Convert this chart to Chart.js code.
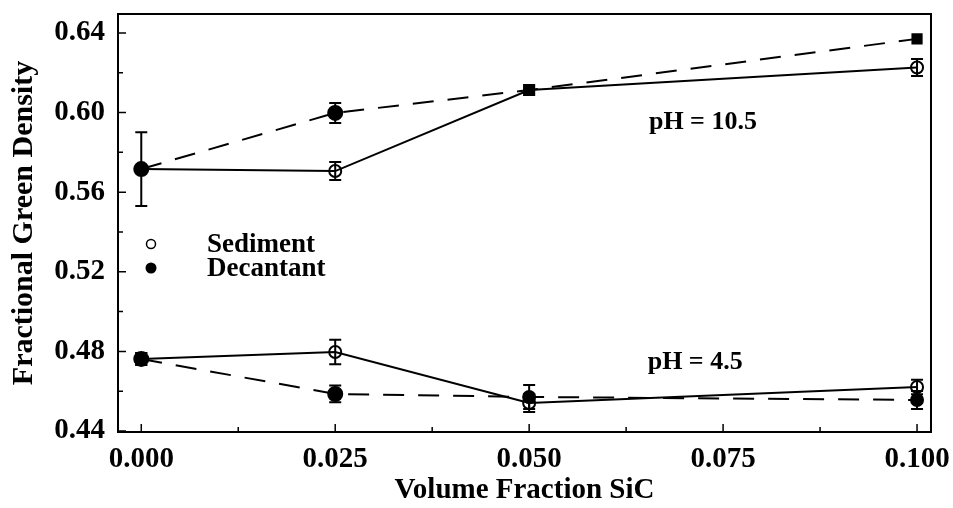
<!DOCTYPE html>
<html>
<head>
<meta charset="utf-8">
<script src="https://cdn.jsdelivr.net/npm/chart.js@4.4.1/dist/chart.umd.min.js"></script>
<style>
  html, body { margin: 0; padding: 0; background: #fff; }
  #wrap { width: 953px; height: 508px; }
</style>
</head>
<body>
<div id="wrap"><canvas id="myChart_Density"></canvas></div>
<script>
// volume fraction SiC (x)
var volFrac = [0.0, 0.025, 0.05, 0.1];

// pH = 10.5
var sedHigh = [0.5716, 0.5706, 0.6113, 0.6226];
var sedHighErr = [0, 0.0045, 0, 0.0043];
var decHigh = [0.5716, 0.5998, 0.6113, 0.637];
var decHighErr = [0.0185, 0.005, 0, 0];

// pH = 4.5
var sedLow = [0.4762, 0.4797, 0.4541, 0.4621];
var sedLowErr = [0.003, 0.0062, 0.0045, 0.0036];
var decLow = [0.4762, 0.4586, 0.4571, 0.4556];
var decLowErr = [0.003, 0.0042, 0.006, 0.0045];

var xTicks = [0.0, 0.025, 0.05, 0.075, 0.1];
var yTicks = [0.44, 0.48, 0.52, 0.56, 0.6, 0.64];

var serif = "'Liberation Serif', 'Times New Roman', serif";

function toPoints(ys, errs) {
  return volFrac.map(function (x, i) {
    return { x: x, y: ys[i], err: errs[i] };
  });
}

// error bars with caps
var errorBars = {
  id: "errorBars",
  afterDatasetsDraw: function (chart) {
    var ctx = chart.ctx;
    var ys = chart.scales.y;
    ctx.save();
    ctx.strokeStyle = "#000";
    ctx.lineWidth = 2;
    chart.data.datasets.forEach(function (ds, di) {
      var meta = chart.getDatasetMeta(di);
      ds.data.forEach(function (p, i) {
        if (!p.err) return;
        var px = meta.data[i].x;
        var top = ys.getPixelForValue(p.y + p.err);
        var bot = ys.getPixelForValue(p.y - p.err);
        ctx.beginPath();
        ctx.moveTo(px, top);
        ctx.lineTo(px, bot);
        ctx.moveTo(px - 6, top);
        ctx.lineTo(px + 6, top);
        ctx.moveTo(px - 6, bot);
        ctx.lineTo(px + 6, bot);
        ctx.stroke();
      });
    });
    ctx.restore();
  },
};

// frame, inward ticks, legend and pH labels
var decorations = {
  id: "decorations",
  afterDraw: function (chart) {
    var ctx = chart.ctx;
    var a = chart.chartArea;
    var xs = chart.scales.x;
    var ys = chart.scales.y;
    ctx.save();
    ctx.strokeStyle = "#000";
    ctx.lineWidth = 2;
    ctx.strokeRect(a.left, a.top, a.right - a.left, a.bottom - a.top);

    ctx.lineWidth = 1.5;
    ctx.beginPath();
    for (var v = 0.44; v <= 0.6501; v += 0.02) {
      var py = ys.getPixelForValue(v);
      var major = Math.abs(Math.round(v * 100) % 4) === 0;
      ctx.moveTo(a.left, py);
      ctx.lineTo(a.left + (major ? 8 : 5), py);
    }
    for (var u = 0; u <= 0.1001; u += 0.0125) {
      var px = xs.getPixelForValue(u);
      var majorX = Math.abs(Math.round(u * 10000) % 250) === 0;
      ctx.moveTo(px, a.bottom);
      ctx.lineTo(px, a.bottom - (majorX ? 8 : 5));
    }
    ctx.stroke();

    // legend
    var lx = a.left + 33;
    var ly = a.top + 230;
    ctx.lineWidth = 1.5;
    ctx.beginPath();
    ctx.arc(lx, ly, 4.5, 0, Math.PI * 2);
    ctx.stroke();
    ctx.beginPath();
    ctx.arc(lx, ly + 24, 5.5, 0, Math.PI * 2);
    ctx.fillStyle = "#000";
    ctx.fill();
    ctx.font = "bold 27px " + serif;
    ctx.textAlign = "left";
    ctx.textBaseline = "middle";
    ctx.fillText("Sediment", lx + 56, ly + 1);
    ctx.fillText("Decantant", lx + 56, ly + 25);

    // pH labels
    ctx.font = "bold 26px " + serif;
    ctx.textAlign = "center";
    ctx.fillText("pH = 10.5", xs.getPixelForValue(0.0724), ys.getPixelForValue(0.5952));
    ctx.fillText("pH = 4.5", xs.getPixelForValue(0.0714), ys.getPixelForValue(0.4745));
    ctx.restore();
  },
};

function series(label, pts, dashed, styles, fills, radius) {
  return {
    label: label,
    data: pts,
    borderColor: "#000",
    borderWidth: 2,
    borderDash: dashed ? [21, 14] : [],
    tension: 0,
    pointStyle: styles,
    pointRadius: radius,
    pointBorderColor: "#000",
    pointBorderWidth: 2,
    pointBackgroundColor: fills,
  };
}

var none = "rgba(0,0,0,0)";
var ctxDensity = document.getElementById("myChart_Density").getContext("2d");
var chartDensity = new Chart(ctxDensity, {
  type: "line",
  data: {
    datasets: [
      series("Decantant pH 10.5", toPoints(decHigh, decHighErr), true,
        ["circle", "circle", "rect", "rect"], ["#000", "#000", "#000", "#000"], [7, 7, 7, 6.5]),
      series("Sediment pH 10.5", toPoints(sedHigh, sedHighErr), false,
        ["circle", "circle", "rect", "circle"], ["#000", none, "#000", none], [6, 6, 7, 6]),
      series("Decantant pH 4.5", toPoints(decLow, decLowErr), true,
        ["circle", "circle", "circle", "circle"], ["#000", "#000", "#000", "#000"], [7, 7, 6, 6]),
      series("Sediment pH 4.5", toPoints(sedLow, sedLowErr), false,
        ["circle", "circle", "circle", "circle"], ["#000", none, none, none], [6, 6, 6, 6]),
    ],
  },
  options: {
    responsive: true,
    maintainAspectRatio: false,
    animation: false,
    layout: { padding: { top: 14, right: 22, left: 0, bottom: 0 } },
    plugins: { legend: { display: false }, tooltip: { enabled: false } },
    scales: {
      x: {
        type: "linear",
        min: -0.003,
        max: 0.1018,
        afterBuildTicks: function (axis) {
          axis.ticks = xTicks.map(function (v) { return { value: v }; });
        },
        afterFit: function (axis) {
          axis.height = 76;
          axis.paddingLeft = 0;
          axis.paddingRight = 0;
        },
        grid: { display: false, drawTicks: false },
        border: { display: false },
        ticks: {
          padding: 10,
          color: "#000",
          font: { family: serif, size: 29, weight: "bold" },
          maxRotation: 0,
          callback: function (v) { return Number(v).toFixed(3); },
        },
        title: {
          display: true,
          text: "Volume Fraction SiC",
          color: "#000",
          font: { family: serif, size: 29, weight: "bold" },
          padding: { top: 0, bottom: 0 },
        },
      },
      y: {
        min: 0.4395,
        max: 0.6495,
        afterBuildTicks: function (axis) {
          axis.ticks = yTicks.map(function (v) { return { value: v }; });
        },
        afterFit: function (axis) {
          axis.width = 118;
          axis.paddingTop = 0;
          axis.paddingBottom = 0;
        },
        grid: { display: false, drawTicks: false },
        border: { display: false },
        ticks: {
          padding: 13,
          color: "#000",
          font: { family: serif, size: 29, weight: "bold" },
          callback: function (v) { return Number(v).toFixed(2); },
        },
        title: {
          display: true,
          text: "Fractional Green Density",
          color: "#000",
          font: { family: serif, size: 30, weight: "bold" },
          padding: { top: 6, bottom: 0 },
        },
      },
    },
  },
  plugins: [errorBars, decorations],
});
</script>
</body>
</html>
